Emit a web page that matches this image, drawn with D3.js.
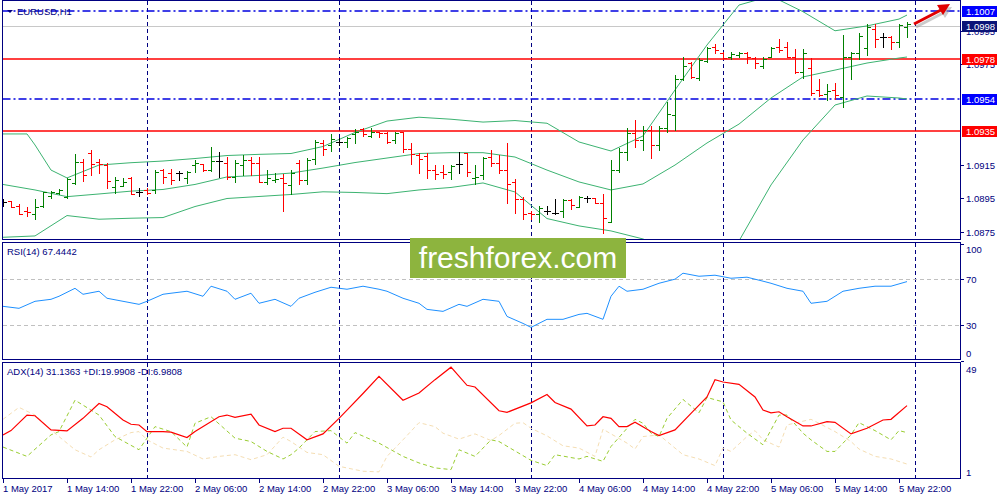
<!DOCTYPE html>
<html><head><meta charset="utf-8">
<script src="https://cdn.jsdelivr.net/npm/d3@7"></script>
<style>
html,body{margin:0;padding:0;background:#fff;overflow:hidden;}
svg{display:block;font-family:"Liberation Sans",Arial,sans-serif;}
</style></head><body>
<svg id="c" width="1000" height="500"></svg>
<script>
// ---------------- DATA ----------------
const symbol = "EURUSD,H1";
const firstBarTime = "2017-05-01 06:00";
const barOpen = [1.08927,1.08933,1.08905,1.08875,1.08855,1.08903,1.08963,1.08981,1.08959,1.09042,1.09166,1.09220,1.09166,1.09148,1.09017,1.09023,1.09071,1.08987,1.08999,1.08999,1.09118,1.09100,1.09100,1.09071,1.09148,1.09154,1.09118,1.09174,1.09162,1.09077,1.09148,1.09178,1.09160,1.09047,1.09059,1.09071,1.09029,1.09160,1.09059,1.09182,1.09282,1.09268,1.09284,1.09288,1.09332,1.09362,1.09322,1.09344,1.09338,1.09296,1.09344,1.09242,1.09208,1.09202,1.09118,1.09108,1.09108,1.09152,1.09218,1.09072,1.09089,1.09198,1.09158,1.09118,1.09048,1.08943,1.08859,1.08853,1.08873,1.08859,1.08873,1.08939,1.08899,1.08953,1.08949,1.08923,1.08809,1.09118,1.09226,1.09340,1.09298,1.09358,1.09268,1.09370,1.09447,1.09661,1.09760,1.09667,1.09772,1.09856,1.09820,1.09796,1.09806,1.09820,1.09786,1.09740,1.09796,1.09856,1.09856,1.09796,1.09706,1.09727,1.09597,1.09573,1.09597,1.09557,1.09792,1.09816,1.09846,1.09960,1.09912,1.09916,1.09886,1.09975];
const barHigh = [1.08943,1.08936,1.08913,1.08895,1.08945,1.08989,1.08993,1.09005,1.09069,1.09214,1.09182,1.09238,1.09184,1.09160,1.09075,1.09069,1.09075,1.09009,1.09009,1.09118,1.09123,1.09123,1.09114,1.09114,1.09178,1.09157,1.09254,1.09224,1.09194,1.09178,1.09208,1.09194,1.09194,1.09118,1.09099,1.09094,1.09118,1.09178,1.09188,1.09298,1.09298,1.09332,1.09312,1.09314,1.09362,1.09368,1.09368,1.09347,1.09344,1.09344,1.09347,1.09282,1.09222,1.09222,1.09148,1.09148,1.09148,1.09228,1.09220,1.09148,1.09194,1.09238,1.09208,1.09282,1.09063,1.08959,1.08873,1.08903,1.08903,1.08945,1.08945,1.08945,1.08963,1.08963,1.08953,1.08973,1.09178,1.09250,1.09370,1.09417,1.09382,1.09382,1.09382,1.09527,1.09687,1.09792,1.09766,1.09786,1.09856,1.09872,1.09826,1.09822,1.09826,1.09826,1.09792,1.09792,1.09856,1.09900,1.09886,1.09840,1.09840,1.09786,1.09661,1.09633,1.09637,1.09926,1.09826,1.09936,1.09992,1.09992,1.09939,1.09920,1.09992,1.10005];
const barLow = [1.08903,1.08895,1.08853,1.08843,1.08827,1.08897,1.08953,1.08975,1.08953,1.09033,1.09054,1.09089,1.09100,1.09013,1.08983,1.09020,1.08975,1.08963,1.08975,1.08983,1.09042,1.09033,1.09059,1.09042,1.09105,1.09114,1.09114,1.09075,1.09065,1.09045,1.09089,1.09089,1.09045,1.09033,1.09045,1.08873,1.08973,1.09033,1.09033,1.09154,1.09208,1.09234,1.09268,1.09254,1.09278,1.09322,1.09314,1.09314,1.09282,1.09282,1.09228,1.09152,1.09102,1.09072,1.09063,1.09069,1.09063,1.09102,1.09083,1.09033,1.09063,1.09142,1.09102,1.08923,1.08863,1.08824,1.08824,1.08809,1.08853,1.08853,1.08839,1.08883,1.08899,1.08929,1.08919,1.08740,1.08809,1.09106,1.09178,1.09256,1.09238,1.09190,1.09238,1.09346,1.09358,1.09657,1.09667,1.09657,1.09766,1.09820,1.09780,1.09780,1.09796,1.09756,1.09727,1.09727,1.09792,1.09826,1.09792,1.09700,1.09667,1.09567,1.09561,1.09537,1.09541,1.09497,1.09661,1.09780,1.09806,1.09852,1.09852,1.09840,1.09856,1.09916];
const barClose = [1.08927,1.08897,1.08857,1.08869,1.08899,1.08987,1.08985,1.08999,1.09063,1.09164,1.09089,1.09154,1.09154,1.09053,1.09059,1.09047,1.08977,1.08987,1.08981,1.09106,1.09077,1.09059,1.09100,1.09106,1.09160,1.09118,1.09172,1.09174,1.09078,1.09160,1.09178,1.09160,1.09047,1.09071,1.09065,1.09041,1.09100,1.09059,1.09178,1.09288,1.09242,1.09302,1.09284,1.09308,1.09347,1.09332,1.09344,1.09338,1.09284,1.09341,1.09244,1.09212,1.09182,1.09118,1.09093,1.09093,1.09142,1.09152,1.09108,1.09078,1.09188,1.09162,1.09118,1.09033,1.08943,1.08853,1.08853,1.08893,1.08873,1.08859,1.08939,1.08909,1.08959,1.08953,1.08923,1.08830,1.09118,1.09226,1.09340,1.09298,1.09358,1.09268,1.09370,1.09453,1.09661,1.09740,1.09676,1.09776,1.09850,1.09836,1.09786,1.09812,1.09816,1.09792,1.09756,1.09780,1.09846,1.09836,1.09796,1.09706,1.09816,1.09577,1.09567,1.09593,1.09567,1.09796,1.09816,1.09920,1.09975,1.09900,1.09912,1.09886,1.09986,1.09992];

// Bollinger bands [bar, price]
const bbUpper = [[0,1.09334],[3,1.09334],[4,1.09268],[6,1.09118],[8,1.09071],[12,1.09148],[16,1.09162],[20,1.09172],[24,1.09187],[28,1.09205],[32,1.09212],[36,1.09217],[40,1.09259],[44,1.09343],[48,1.09411],[52,1.09434],[56,1.09422],[60,1.09405],[64,1.09414],[68,1.09398],[72,1.09286],[76,1.09232],[80,1.09322],[84,1.09597],[88,1.09866],[92,1.10105],[96,1.10159],[100,1.10065],[104,1.09951],[108,1.09980],[112,1.10021],[113,1.10045]];
const bbMiddle = [[0,1.09032],[4,1.08999],[8,1.08959],[12,1.08975],[16,1.08992],[20,1.09002],[24,1.09032],[28,1.09077],[32,1.09086],[36,1.09100],[40,1.09130],[44,1.09163],[48,1.09190],[52,1.09217],[56,1.09222],[60,1.09222],[64,1.09196],[68,1.09118],[72,1.09047],[76,1.08999],[80,1.09035],[84,1.09148],[88,1.09280],[92,1.09393],[96,1.09549],[100,1.09675],[104,1.09716],[108,1.09758],[112,1.09788],[113,1.09794]];
const bbLower = [[0,1.08716],[4,1.08724],[8,1.08846],[12,1.08824],[16,1.08830],[20,1.08834],[24,1.08900],[28,1.08948],[32,1.08960],[36,1.08972],[40,1.08988],[44,1.08984],[48,1.08977],[52,1.08999],[56,1.09014],[60,1.09041],[64,1.08987],[68,1.08828],[72,1.08784],[76,1.08754],[80,1.08706],[84,1.08628],[88,1.08568],[92,1.08694],[96,1.09029],[100,1.09298],[104,1.09507],[108,1.09561],[112,1.09549],[113,1.09543]];

// RSI(14) [bar, value]
const rsiValues = [[0,46.3],[2,44.6],[4,50.6],[6,52.3],[7,54.9],[9,61.7],[10,56.6],[12,59.2],[13,53.2],[15,50.6],[17,48.0],[18,50.6],[20,56.6],[21,57.5],[23,59.2],[25,54.9],[26,63.5],[28,59.2],[29,52.3],[31,57.5],[32,48.9],[34,52.3],[36,46.3],[37,53.2],[39,58.3],[41,62.6],[43,60.9],[45,63.5],[47,60.9],[48,59.2],[50,53.2],[52,48.9],[53,43.7],[55,42.0],[57,48.0],[58,46.3],[60,52.3],[62,50.6],[63,37.7],[65,31.7],[66,28.3],[68,35.2],[70,35.2],[72,39.4],[73,40.3],[75,35.2],[76,54.9],[77,63.5],[78,59.2],[80,60.9],[82,66.0],[84,69.5],[85,74.6],[87,72.0],[89,72.9],[91,70.3],[93,71.2],[95,67.8],[96,66.0],[98,61.7],[100,59.2],[101,48.9],[103,50.6],[105,59.2],[107,61.7],[109,63.5],[111,63.5],[113,67.44]];

// ADX(14) [bar, value]
const adxMain = [[0,19.05],[1,20.82],[3,27.26],[4,26.97],[6,21.10],[8,20.69],[10,25.90],[12,32.06],[13,30.66],[15,25.21],[16,23.44],[17,23.15],[18,20.41],[20,20.41],[21,20.16],[23,17.94],[24,20.41],[27,26.56],[28,27.26],[29,26.31],[31,27.67],[32,23.15],[34,20.41],[35,21.80],[36,21.80],[38,17.00],[40,19.46],[42,25.90],[43,29.31],[45,36.16],[47,43.26],[50,33.41],[52,36.41],[54,41.90],[56,47.07],[58,39.56],[59,38.87],[62,29.02],[63,28.36],[66,32.30],[68,35.75],[69,32.47],[71,29.72],[73,22.74],[74,23.15],[75,26.56],[76,25.90],[77,22.46],[78,22.46],[79,24.26],[81,20.41],[82,18.76],[84,21.10],[86,27.95],[88,34.76],[89,41.90],[90,40.92],[92,39.97],[94,34.76],[95,29.31],[96,28.20],[97,28.61],[98,26.56],[100,22.74],[101,22.74],[103,24.51],[104,24.26],[106,19.46],[108,21.80],[110,25.21],[111,25.49],[113,31.14]];
const plusDI = [[0,14.01],[3,10.15],[6,19.05],[7,20.41],[9,33.41],[11,29.31],[12,27.26],[14,18.35],[17,12.90],[19,22.46],[21,20.41],[23,14.01],[24,23.85],[26,26.56],[29,17.70],[31,16.30],[33,12.20],[35,9.08],[36,10.85],[37,13.59],[39,20.41],[41,20.82],[43,15.65],[44,20.00],[47,15.65],[50,10.15],[52,7.44],[54,5.39],[56,4.69],[57,12.90],[59,10.15],[61,17.00],[62,16.30],[66,8.51],[68,6.33],[69,10.85],[72,9.08],[73,10.15],[75,8.10],[76,14.25],[79,25.49],[80,23.85],[81,19.75],[82,18.35],[83,25.90],[85,33.70],[87,28.20],[88,34.52],[90,32.71],[91,25.21],[93,19.75],[95,14.95],[97,27.26],[98,27.26],[100,19.75],[101,17.00],[103,12.20],[104,12.20],[106,19.05],[107,24.10],[109,20.82],[111,17.00],[112,20.82],[113,19.99]];
const minusDI = [[0,25.49],[2,30.42],[4,27.26],[6,21.10],[7,18.35],[9,12.90],[11,9.90],[12,12.90],[14,17.00],[16,20.00],[17,20.41],[18,17.00],[20,13.59],[23,12.20],[25,9.08],[27,10.15],[29,10.85],[31,8.79],[33,10.85],[35,18.11],[36,16.30],[38,11.79],[40,10.85],[42,6.05],[45,4.00],[47,3.75],[48,10.15],[50,17.00],[52,24.10],[54,22.46],[55,19.75],[57,17.29],[59,19.46],[61,16.71],[62,18.80],[64,23.85],[65,24.10],[66,21.80],[68,18.64],[70,14.54],[72,13.59],[74,10.15],[75,21.40],[76,19.46],[78,15.65],[79,13.19],[80,18.35],[82,19.05],[84,13.59],[85,10.85],[87,9.08],[89,6.33],[90,13.59],[91,12.20],[93,18.35],[94,20.82],[95,17.00],[97,14.01],[98,23.15],[101,25.49],[102,23.85],[104,20.41],[106,16.30],[107,13.19],[109,10.15],[111,9.08],[113,6.98]];

// axes / labels
const timeTickBars = [0,8,16,24,32,40,48,56,64,72,80,88,96,104,112];
const timeTickLabels = ["1 May 2017","1 May 14:00","1 May 22:00","2 May 06:00","2 May 14:00","2 May 22:00","3 May 06:00","3 May 14:00","3 May 22:00","4 May 06:00","4 May 14:00","4 May 22:00","5 May 06:00","5 May 14:00","5 May 22:00"];
const daySeparatorBars = [18,42,66,90,114];
const priceTicks = [1.0875,1.0895,1.0915,1.0975,1.0995];
const levelPrices = [1.0998,1.1007,1.0978,1.0954,1.0935];
const levelKinds = ["bid","blue","red","blue","red"];
const rsiLevels = [70,30];
const rsiTicks = [100,70,30,0];
const adxTicks = [49,1];
const rsiTitle = "RSI(14) 67.4442";
const adxTitle = "ADX(14) 31.1363 +DI:19.9908 -DI:6.9808";
const watermark = "freshforex.com";

// ---------------- LAYOUT ----------------
const svg = d3.select("#c");
const NAVY = "#000080";
const PL = 2.5, PR = 960.5;
const P = {
  main:{top:0.5, bot:239.5},
  rsi:{top:242.5, bot:359.5},
  adx:{top:362.5, bot:478.5}
};
const x = d3.scaleLinear().domain([0, 113]).range([3, 907]);
const y = d3.scaleLinear().domain([1.08939, 1.10135]).range([200, 0]);
const yR = d3.scaleLinear().domain([0, 100]).range([360.5, 243.5]);
const yA = d3.scaleLinear().domain([1, 49]).range([478.5, 362.5]);

svg.append("rect").attr("width",1000).attr("height",500).attr("fill","#fff");

const defs = svg.append("defs");
Object.entries(P).forEach(([k,p])=>{
  defs.append("clipPath").attr("id","clip-"+k).append("rect")
    .attr("x",PL+0.5).attr("y",p.top+0.5).attr("width",PR-PL-1).attr("height",p.bot-p.top-1);
});

// day separators
Object.entries(P).forEach(([k,p])=>{
  const g = svg.append("g");
  daySeparatorBars.filter(b=>x(b)<PR).forEach(b=>{
    const xx = Math.round(x(b))+0.5;
    g.append("line").attr("x1",xx).attr("x2",xx).attr("y1",p.top).attr("y2",p.bot)
      .attr("stroke",NAVY).attr("stroke-width",1).attr("stroke-dasharray","4,3")
      .attr("shape-rendering","crispEdges");
  });
});

// ---- main pane ----
const gMain = svg.append("g").attr("clip-path","url(#clip-main)");

// level lines
const levelStyle = {
  bid:{stroke:"#c8c8c8", width:1, dash:null, box:"#0a1478"},
  blue:{stroke:"#0000e0", width:1.4, dash:"8,3,2,3", box:"#0000ff"},
  red:{stroke:"#ff0000", width:1.5, dash:null, box:"#ff0000"}
};
levelPrices.forEach((p,i)=>{
  const st = levelStyle[levelKinds[i]];
  const yy = levelKinds[i]==="bid" ? Math.round(y(p))+0.5 : Math.round(y(p));
  gMain.append("line").attr("x1",PL).attr("x2",PR).attr("y1",yy).attr("y2",yy)
    .attr("stroke",st.stroke).attr("stroke-width",st.width)
    .attr("stroke-dasharray",st.dash);
});

// bollinger
const bbLine = d3.line().x(d=>x(d[0])).y(d=>y(d[1]));
[bbUpper,bbMiddle,bbLower].forEach(s=>{
  gMain.append("path").attr("d",bbLine(s)).attr("fill","none")
    .attr("stroke","#3cb371").attr("stroke-width",1);
});

// OHLC bars
const bars = d3.range(barOpen.length).map(i=>({i,o:barOpen[i],h:barHigh[i],l:barLow[i],c:barClose[i]}));
const barColor = d=> d.c>d.o ? "#008000" : (d.c<d.o ? "#ff0000" : "#000000");
const gb = gMain.append("g").attr("shape-rendering","crispEdges");
bars.forEach(d=>{
  const xi = Math.round(x(d.i));
  const col = barColor(d);
  const yh = Math.round(y(d.h)), yl = Math.round(y(d.l));
  gb.append("rect").attr("x",xi).attr("y",yh).attr("width",1).attr("height",Math.max(yl-yh+1,2)).attr("fill",col);
  const yo = Math.round(y(d.o)), yc = Math.round(y(d.c));
  gb.append("rect").attr("x",xi-3).attr("y",yo).attr("width",3).attr("height",1).attr("fill",col);
  gb.append("rect").attr("x",xi+1).attr("y",yc).attr("width",3).attr("height",1).attr("fill",col);
});

// ---- RSI pane ----
const gR = svg.append("g").attr("clip-path","url(#clip-rsi)");
rsiLevels.forEach(v=>{
  const yy = Math.round(yR(v))+0.5;
  gR.append("line").attr("x1",PL).attr("x2",PR).attr("y1",yy).attr("y2",yy)
    .attr("stroke","#c0c0c0").attr("stroke-dasharray","4,3").attr("shape-rendering","crispEdges");
});
gR.append("path").attr("d",d3.line().x(d=>x(d[0])).y(d=>yR(d[1]))(rsiValues))
  .attr("fill","none").attr("stroke","#1e90ff").attr("stroke-width",1);

// ---- ADX pane ----
const gA = svg.append("g").attr("clip-path","url(#clip-adx)");
const aLine = d3.line().x(d=>x(d[0])).y(d=>yA(d[1]));
gA.append("path").attr("d",aLine(minusDI)).attr("fill","none").attr("stroke","#f5deb3").attr("stroke-dasharray","4,3");
gA.append("path").attr("d",aLine(plusDI)).attr("fill","none").attr("stroke","#9acd32").attr("stroke-dasharray","4,3");
gA.append("path").attr("d",aLine(adxMain)).attr("fill","none").attr("stroke","#ff0000").attr("stroke-width",1.2);

// ---- pane borders ----
Object.values(P).forEach(p=>{
  svg.append("rect").attr("x",PL).attr("y",p.top).attr("width",PR-PL).attr("height",p.bot-p.top)
    .attr("fill","none").attr("stroke",NAVY).attr("shape-rendering","crispEdges");
});

// ---- axes text ----
const fs = "9.5px";
const tx = svg.append("g").attr("font-size",fs).attr("fill",NAVY);
timeTickBars.forEach((b,i)=>{
  const xi = Math.round(x(b))+0.5;
  svg.append("line").attr("x1",xi).attr("x2",xi).attr("y1",P.adx.bot).attr("y2",P.adx.bot+4)
    .attr("stroke",NAVY).attr("shape-rendering","crispEdges");
  tx.append("text").attr("x",xi-0.5).attr("y",492).text(timeTickLabels[i]);
});
priceTicks.forEach(p=>{
  const yy = Math.round(y(p))+0.5;
  svg.append("line").attr("x1",PR).attr("x2",PR+3).attr("y1",yy).attr("y2",yy).attr("stroke",NAVY).attr("shape-rendering","crispEdges");
  tx.append("text").attr("x",966).attr("y",yy+3.5).text(p.toFixed(4));
});
levelPrices.forEach((p,i)=>{
  const yy = Math.round(y(p))+0.5;
  svg.append("rect").attr("x",962).attr("y",yy-5.5).attr("width",35).attr("height",11)
    .attr("fill",levelStyle[levelKinds[i]].box);
  svg.append("text").attr("x",966).attr("y",yy+3.5).attr("font-size",fs).attr("fill","#fff").text(p.toFixed(4));
});
rsiTicks.forEach(v=>{
  const yy = Math.round(yR(v))+0.5;
  svg.append("line").attr("x1",PR).attr("x2",PR+3).attr("y1",yy).attr("y2",yy).attr("stroke",NAVY).attr("shape-rendering","crispEdges");
  const ty = v===100 ? P.rsi.top+10 : (v===0 ? P.rsi.bot-3 : yy+3.5);
  tx.append("text").attr("x",966).attr("y",ty).text(v);
});
adxTicks.forEach((v,i)=>{
  const ty = i===0 ? P.adx.top+10 : P.adx.bot-3;
  tx.append("text").attr("x",966).attr("y",ty).text(v);
});

tx.append("path").attr("d","M7,10 L13,10 L10,13 Z").attr("fill",NAVY);
tx.append("text").attr("x",17).attr("y",15).text(symbol);
tx.append("text").attr("x",7).attr("y",255).text(rsiTitle);
tx.append("text").attr("x",7).attr("y",375).text(adxTitle);

// watermark
svg.append("rect").attr("x",410).attr("y",238).attr("width",216).attr("height",40).attr("fill","#8db43e");
svg.append("text").attr("x",518).attr("y",268).attr("text-anchor","middle")
  .attr("font-size","30px").attr("fill","#fff").text(watermark);

// red arrow annotation
function arrow(g, dx, dy, col, op){
  g.append("line").attr("x1",914+dx).attr("y1",24+dy).attr("x2",941+dx).attr("y2",10+dy)
    .attr("stroke",col).attr("stroke-width",3).attr("opacity",op);
  g.append("path").attr("d",`M${950+dx},${4+dy} L${937+dx},${5+dy} L${943+dx},${15+dy} Z`).attr("fill",col).attr("opacity",op);
}
const ga = svg.append("g");
arrow(ga,2,3,"#999",0.5);
arrow(ga,0,0,"#e00000",1);
</script>
</body></html>
